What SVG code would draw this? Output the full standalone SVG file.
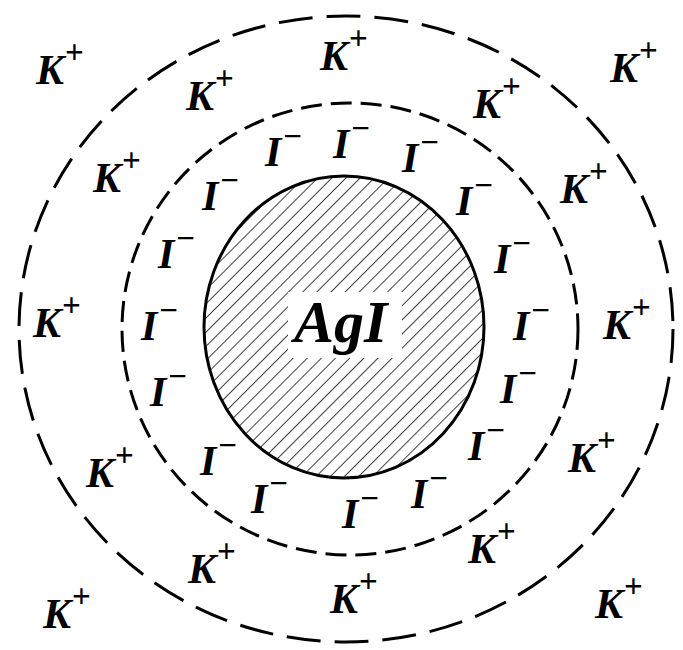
<svg xmlns="http://www.w3.org/2000/svg" width="683" height="650" viewBox="0 0 683 650">
<style>
.t{font-family:"Liberation Serif","Times New Roman",serif;font-weight:bold;font-style:italic;font-size:42px;fill:#000}
.p{font-style:normal;font-size:33px}
.m{font-style:normal;font-size:33px}
.ag{font-size:60px}
.ring{fill:none;stroke:#000;stroke-width:3}
</style>
<defs>
<pattern id="hatch" width="10" height="10" patternUnits="userSpaceOnUse" patternTransform="rotate(45)">
<line x1="0" y1="0" x2="0" y2="10" stroke="#000" stroke-width="1.5"/>
</pattern>
</defs>
<rect width="683" height="650" fill="#fff"/>
<g id="connectors">
<ellipse id="outer-layer" class="ring" cx="346" cy="329" rx="327" ry="313" stroke-dasharray="34 14"/>
<ellipse id="adsorption-layer" class="ring" cx="350" cy="329" rx="228" ry="226" stroke-dasharray="21 9"/>
</g>
<g id="core">
<ellipse cx="344" cy="327" rx="140" ry="151" fill="url(#hatch)" stroke="#000" stroke-width="3"/>
<rect x="288" y="292" width="114" height="66" fill="#fff"/>
<text class="t ag" x="294" y="342">AgI</text>
</g>
<g id="iodide-ions">
<text class="t" x="265" y="166">I<tspan class="m" dx="2" dy="-19">−</tspan></text>
<text class="t" x="333" y="158">I<tspan class="m" dx="2" dy="-19">−</tspan></text>
<text class="t" x="402" y="172">I<tspan class="m" dx="2" dy="-19">−</tspan></text>
<text class="t" x="202" y="210">I<tspan class="m" dx="2" dy="-19">−</tspan></text>
<text class="t" x="456" y="215">I<tspan class="m" dx="2" dy="-19">−</tspan></text>
<text class="t" x="158" y="268">I<tspan class="m" dx="2" dy="-19">−</tspan></text>
<text class="t" x="494" y="273">I<tspan class="m" dx="2" dy="-19">−</tspan></text>
<text class="t" x="141" y="340">I<tspan class="m" dx="2" dy="-19">−</tspan></text>
<text class="t" x="513" y="340">I<tspan class="m" dx="2" dy="-19">−</tspan></text>
<text class="t" x="150" y="406">I<tspan class="m" dx="2" dy="-19">−</tspan></text>
<text class="t" x="500" y="403">I<tspan class="m" dx="2" dy="-19">−</tspan></text>
<text class="t" x="200" y="475">I<tspan class="m" dx="2" dy="-19">−</tspan></text>
<text class="t" x="468" y="460">I<tspan class="m" dx="2" dy="-19">−</tspan></text>
<text class="t" x="251" y="513">I<tspan class="m" dx="2" dy="-19">−</tspan></text>
<text class="t" x="342" y="528">I<tspan class="m" dx="2" dy="-19">−</tspan></text>
<text class="t" x="411" y="508">I<tspan class="m" dx="2" dy="-19">−</tspan></text>
</g>
<g id="potassium-ions">
<text class="t" x="36" y="84">K<tspan class="p" dx="1" dy="-21">+</tspan></text>
<text class="t" x="320" y="70">K<tspan class="p" dx="1" dy="-21">+</tspan></text>
<text class="t" x="610" y="82">K<tspan class="p" dx="1" dy="-21">+</tspan></text>
<text class="t" x="186" y="110">K<tspan class="p" dx="1" dy="-21">+</tspan></text>
<text class="t" x="473" y="118">K<tspan class="p" dx="1" dy="-21">+</tspan></text>
<text class="t" x="93" y="192">K<tspan class="p" dx="1" dy="-21">+</tspan></text>
<text class="t" x="560" y="203">K<tspan class="p" dx="1" dy="-21">+</tspan></text>
<text class="t" x="33" y="337">K<tspan class="p" dx="1" dy="-21">+</tspan></text>
<text class="t" x="603" y="339">K<tspan class="p" dx="1" dy="-21">+</tspan></text>
<text class="t" x="86" y="487">K<tspan class="p" dx="1" dy="-21">+</tspan></text>
<text class="t" x="568" y="472">K<tspan class="p" dx="1" dy="-21">+</tspan></text>
<text class="t" x="188" y="583">K<tspan class="p" dx="1" dy="-21">+</tspan></text>
<text class="t" x="468" y="563">K<tspan class="p" dx="1" dy="-21">+</tspan></text>
<text class="t" x="330" y="613">K<tspan class="p" dx="1" dy="-21">+</tspan></text>
<text class="t" x="43" y="628">K<tspan class="p" dx="1" dy="-21">+</tspan></text>
<text class="t" x="595" y="618">K<tspan class="p" dx="1" dy="-21">+</tspan></text>
</g>
</svg>
